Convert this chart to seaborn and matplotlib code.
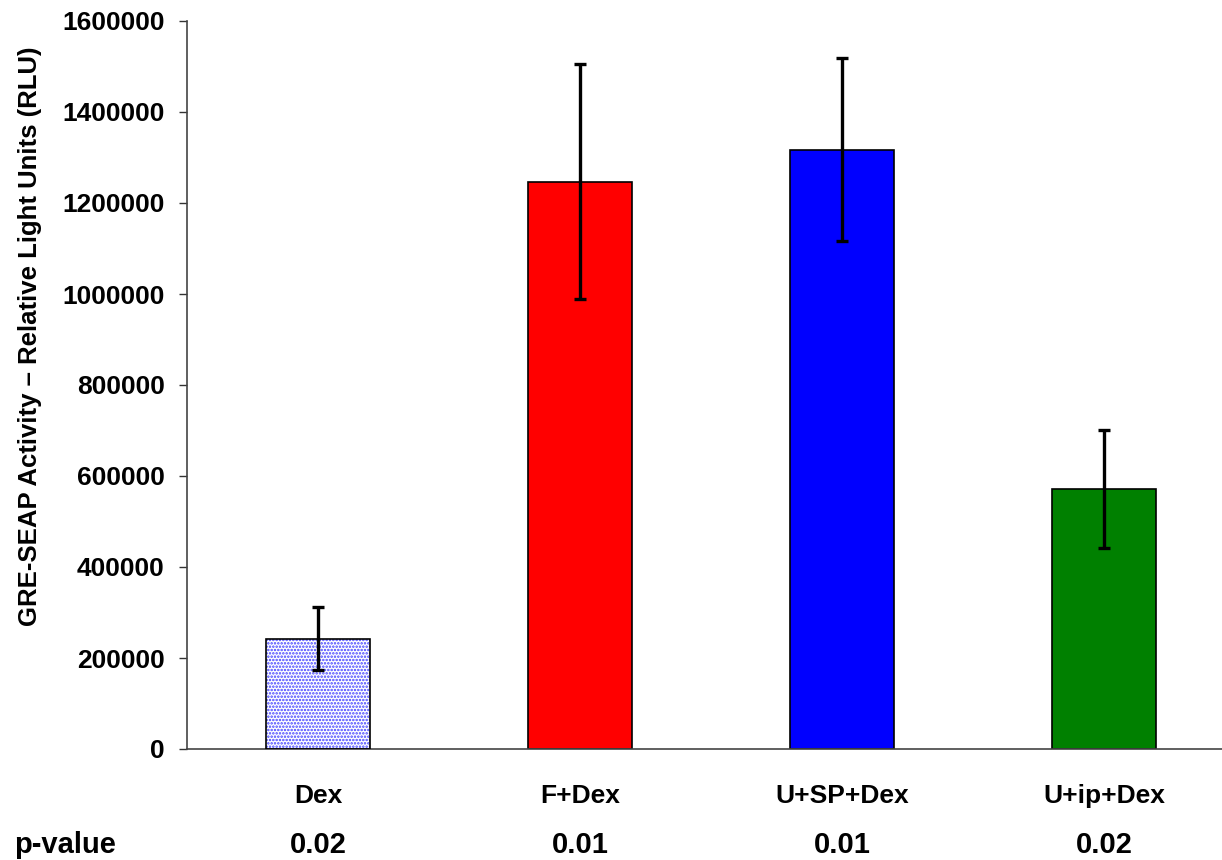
import numpy as np
import matplotlib
matplotlib.use("Agg")
import matplotlib.pyplot as plt
import matplotlib.transforms as mtransforms
from matplotlib.patches import Rectangle
import seaborn as sns

# datos
grupos = ["Dex", "F+Dex", "U+SP+Dex", "U+ip+Dex"]
valores = [242000, 1247000, 1317000, 571000]
errores = [69000, 259000, 201000, 130000]
pvalores = ["0.02", "0.01", "0.01", "0.02"]
colores = ["white", "#ff0000", "#0000ff", "#008000"]

sns.set_theme(style="white")
plt.rcParams['font.family'] = ['Liberation Sans', 'DejaVu Sans']
plt.rcParams['font.weight'] = 'bold'
plt.rcParams['text.color'] = 'black'
plt.rcParams['xtick.color'] = 'black'
plt.rcParams['ytick.color'] = 'black'
plt.rcParams['hatch.linewidth'] = 1.2

fig = plt.figure(figsize=(12.22, 8.60), dpi=100)
ax = fig.add_axes([187/1222, 111/860, 1048/1222, 728/860])

sns.barplot(x=grupos, y=valores, hue=grupos, palette=colores, legend=False,
            width=0.4, edgecolor="black", linewidth=1.2, saturation=1, ax=ax)

# barra Dex con puntos azules
p = ax.patches[0]
p.set_hatch(".....")
p.set_edgecolor("#4040ff")
p.set_linewidth(0)
ax.add_patch(Rectangle((p.get_x(), p.get_y()), p.get_width(), p.get_height(),
                       fill=False, edgecolor="black", linewidth=1.2, zorder=3))

ax.errorbar(np.arange(len(grupos)), valores, yerr=errores, fmt="none",
            ecolor="black", elinewidth=2.4, capsize=4.5, capthick=2.4, zorder=4)

ax.set_xlim(-0.5, 3.5)
ax.set_ylim(0, 1600000)
ax.set_yticks(np.arange(0, 1600001, 200000))
ax.set_yticklabels([str(v) for v in np.arange(0, 1600001, 200000)],
                   fontsize=19, fontweight="bold")
ax.set_xticks(np.arange(len(grupos)))
ax.set_xticklabels(grupos, fontsize=19, fontweight="bold")
ax.set_xticks(np.arange(-0.5, 4.0, 1.0), minor=True)
ax.tick_params(axis="x", which="major", length=0, pad=25)
ax.tick_params(axis="x", which="minor", length=7, width=1, color="#333333", direction="out")
ax.tick_params(axis="y", length=6, width=1, color="#333333", direction="out", pad=10, left=True)
ax.set_xlabel("")
ax.set_ylabel("")

for s in ["top", "right"]:
    ax.spines[s].set_visible(False)
for s in ["left", "bottom"]:
    ax.spines[s].set_color("#444444")
    ax.spines[s].set_linewidth(1.2)

fig.text(30/1222, 1 - 336/860, "GRE-SEAP Activity \u2013 Relative Light Units (RLU)",
         rotation=90, ha="center", va="center", fontsize=18.5, fontweight="bold")

trans = mtransforms.blended_transform_factory(ax.transData, fig.transFigure)
for i, pv in enumerate(pvalores):
    ax.text(i, 1 - 845/860, pv, transform=trans, ha="center", va="center",
            fontsize=21, fontweight="bold")
fig.text(65/1222, 1 - 845/860, "p-value", ha="center", va="center",
         fontsize=21, fontweight="bold")

fig.savefig("out.png", dpi=100)
